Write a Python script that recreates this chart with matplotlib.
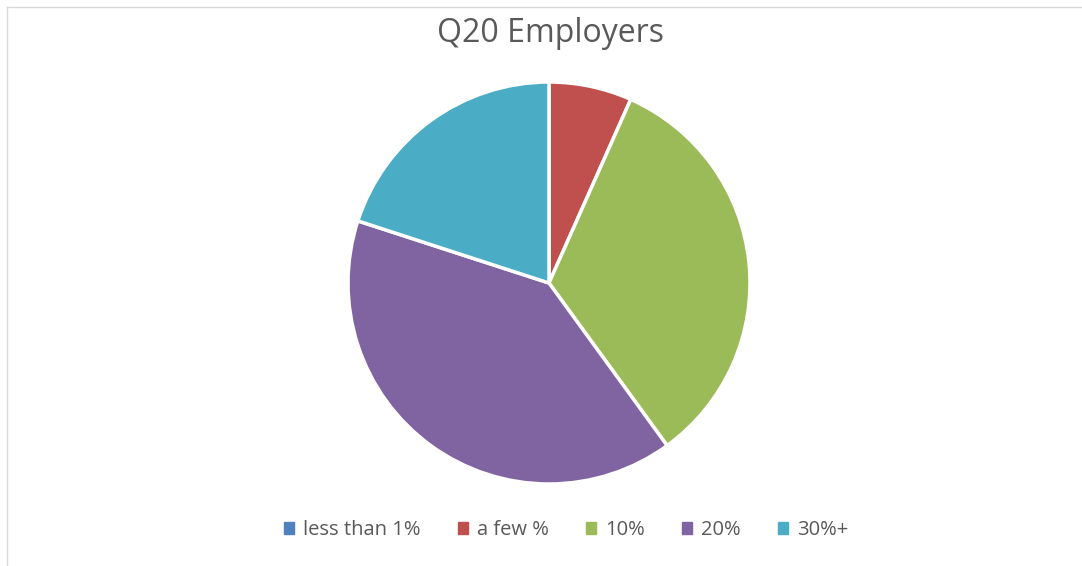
import matplotlib
matplotlib.use("Agg")
import matplotlib.pyplot as plt
from matplotlib.patches import Patch
from matplotlib.lines import Line2D

# Responses per category
categories = ["less than 1%", "a few %", "10%", "20%", "30%+"]
responses = [0, 1, 5, 6, 3]
colors = ["#4F81BD", "#C0504D", "#9BBB59", "#8064A2", "#4BACC6"]
title = "Q20 Employers"

plt.rcParams["font.family"] = ["Open Sans", "DejaVu Sans"]

W, H = 1082, 566
fig = plt.figure(figsize=(W / 100, H / 100), dpi=100)
fig.patch.set_facecolor("white")

# Square axes holding the pie
cx, cy, r = 549, 283, 203
ax = fig.add_axes([(cx - r) / W, (H - cy - r) / H, 2 * r / W, 2 * r / H])
ax.pie(responses, colors=colors, startangle=90, counterclock=False,
       radius=1.0, wedgeprops=dict(edgecolor="white", linewidth=2.5))
ax.set_xlim(-1.01, 1.01)
ax.set_ylim(-1.01, 1.01)
ax.set_aspect("equal")
ax.axis("off")

fig.text(cx / W + 0.001, 1 - 33 / H, title, ha="center", va="center",
         fontsize=23, color="#595959")

handles = [Patch(facecolor=c, edgecolor=c) for c in colors]
leg = fig.legend(handles, categories, loc="center", ncol=5,
                 bbox_to_anchor=(566 / W, 1 - 530 / H), frameon=False,
                 fontsize=14.5, handlelength=0.5, handleheight=0.5,
                 handletextpad=0.45, columnspacing=1.85)
for t in leg.get_texts():
    t.set_color("#595959")

# Thin chart-area border on the left and top edges
border = "#D9D9D9"
fig.add_artist(Line2D([7 / W, 7 / W], [0, 1 - 7 / H], transform=fig.transFigure,
                      color=border, linewidth=1))
fig.add_artist(Line2D([7 / W, 1], [1 - 7 / H, 1 - 7 / H], transform=fig.transFigure,
                      color=border, linewidth=1))

fig.savefig("out.png", dpi=100)
